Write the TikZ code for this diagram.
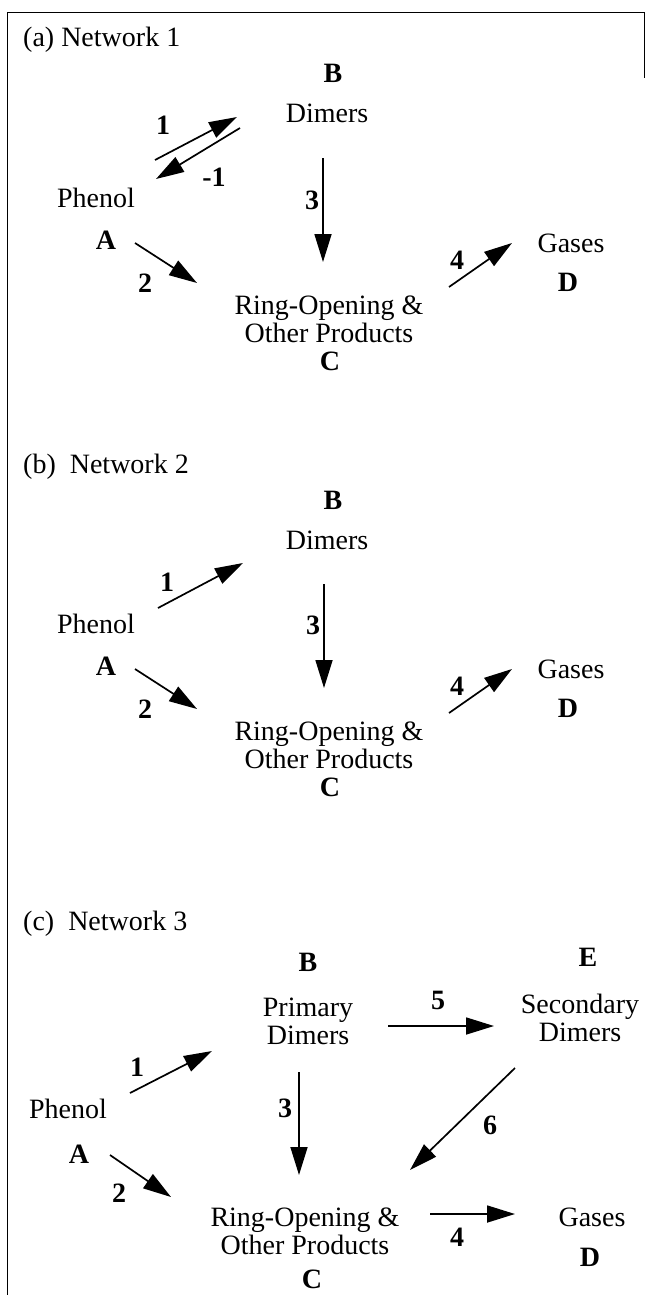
\documentclass[tikz,border=0pt]{standalone}
\usepackage{fontspec}
\setmainfont{Liberation Serif}
\usepackage{tikz}
\usetikzlibrary{arrows.meta,positioning}
\newcommand{\figfont}{\fontsize{28}{28}\selectfont}
\tikzstyle{rxn} = [line width=1.7pt,-{Triangle[length=28pt,width=17pt]}]
\tikzstyle{species} = [inner sep=0pt, anchor=base, font=\figfont]
\tikzstyle{block} = [inner sep=0pt, anchor=north, align=center, font=\figfont]
\tikzstyle{letter} = [inner sep=0pt, anchor=base, font=\figfont\bfseries]
\tikzstyle{num} = [inner sep=0pt, font=\figfont\bfseries]
\tikzstyle{title} = [inner sep=0pt, anchor=base west, font=\figfont]

\begin{document}
\begin{tikzpicture}[x=1pt, y=-1pt]
    \useasboundingbox (0,0) rectangle (647,1295);

    % Frame
    \draw[line width=1pt] (7,1295) -- (7,13) -- (644,13) -- (644,78);

    %%% (a) Network 1
    \node[title] (atitle) at (23,47) {(a) Network 1};
    \node[letter] (aB) at (333,83) {B};
    \node[species] (adim) at (327,123) {Dimers};
    \node[species] (aphen) at (96,207) {Phenol};
    \node[letter] (aA) at (106,249) {A};
    \node[block] (aring) at (329,296) {Ring-Opening \&\\Other Products};
    \node[letter] (aC) at (330,370) {C};
    \node[species] (agas) at (571,252) {Gases};
    \node[letter] (aD) at (568,291) {D};

    % arrow ends
    \coordinate (a1s) at (155,160);  \coordinate (a1e) at (237,117);
    \coordinate (a9s) at (240,128);  \coordinate (a9e) at (156,179);
    \coordinate (a3s) at (323,158);  \coordinate (a3e) at (323,262);
    \coordinate (a2s) at (135,243);  \coordinate (a2e) at (197,283);
    \coordinate (a4s) at (449,287);  \coordinate (a4e) at (512,243);

    \draw[rxn] (a1s) -- (a1e);
    \draw[rxn] (a9s) -- (a9e);
    \draw[rxn] (a3s) -- (a3e);
    \draw[rxn] (a2s) -- (a2e);
    \draw[rxn] (a4s) -- (a4e);

    \node[num] (ak1) at (163,125) {1};
    \node[num] (ak9) at (214,177) {-1};
    \node[num] (ak3) at (312,200) {3};
    \node[num] (ak2) at (145,283) {2};
    \node[num] (ak4) at (457,260) {4};

    %%% (b) Network 2
    \node[title] (btitle) at (23,473) {(b)\ \ Network 2};
    \node[letter] (bB) at (333,509) {B};
    \node[species] (bdim) at (327,549) {Dimers};
    \node[species] (bphen) at (96,633) {Phenol};
    \node[letter] (bA) at (106,675) {A};
    \node[block] (bring) at (329,722) {Ring-Opening \&\\Other Products};
    \node[letter] (bC) at (330,796) {C};
    \node[species] (bgas) at (571,678) {Gases};
    \node[letter] (bD) at (568,717) {D};

    \coordinate (b1s) at (158,608);  \coordinate (b1e) at (243,563);
    \coordinate (b3s) at (324,584);  \coordinate (b3e) at (324,688);
    \coordinate (b2s) at (135,669);  \coordinate (b2e) at (197,709);
    \coordinate (b4s) at (449,713);  \coordinate (b4e) at (512,669);

    \draw[rxn] (b1s) -- (b1e);
    \draw[rxn] (b3s) -- (b3e);
    \draw[rxn] (b2s) -- (b2e);
    \draw[rxn] (b4s) -- (b4e);

    \node[num] (bk1) at (167,582) {1};
    \node[num] (bk3) at (313,625) {3};
    \node[num] (bk2) at (145,709) {2};
    \node[num] (bk4) at (457,686) {4};

    %%% (c) Network 3
    \node[title] (ctitle) at (23,930) {(c)\ \ Network 3};
    \node[letter] (cB) at (308,971) {B};
    \node[block] (cdim) at (308,998) {Primary\\Dimers};
    \node[letter] (cE) at (588,966) {E};
    \node[block] (csec) at (580,994) {Secondary\\Dimers};
    \node[species] (cphen) at (68,1118) {Phenol};
    \node[letter] (cA) at (79,1163) {A};
    \node[block] (cring) at (305,1208) {Ring-Opening \&\\Other Products};
    \node[letter] (cC) at (312,1288) {C};
    \node[species] (cgas) at (592,1226) {Gases};
    \node[letter] (cD) at (590,1266) {D};

    \coordinate (c1s) at (130,1093);  \coordinate (c1e) at (212,1051);
    \coordinate (c5s) at (388,1026);  \coordinate (c5e) at (494,1026);
    \coordinate (c3s) at (299,1072);  \coordinate (c3e) at (299,1175);
    \coordinate (c6s) at (515,1068);  \coordinate (c6e) at (410,1170);
    \coordinate (c2s) at (110,1155);  \coordinate (c2e) at (171,1197);
    \coordinate (c4s) at (430,1214);  \coordinate (c4e) at (515,1214);

    \draw[rxn] (c1s) -- (c1e);
    \draw[rxn] (c5s) -- (c5e);
    \draw[rxn] (c3s) -- (c3e);
    \draw[rxn] (c6s) -- (c6e);
    \draw[rxn] (c2s) -- (c2e);
    \draw[rxn] (c4s) -- (c4e);

    \node[num] (ck1) at (137,1067) {1};
    \node[num] (ck5) at (438,1000) {5};
    \node[num] (ck3) at (285,1108) {3};
    \node[num] (ck6) at (490,1125) {6};
    \node[num] (ck2) at (119,1193) {2};
    \node[num] (ck4) at (457,1237) {4};
\end{tikzpicture}
\end{document}
